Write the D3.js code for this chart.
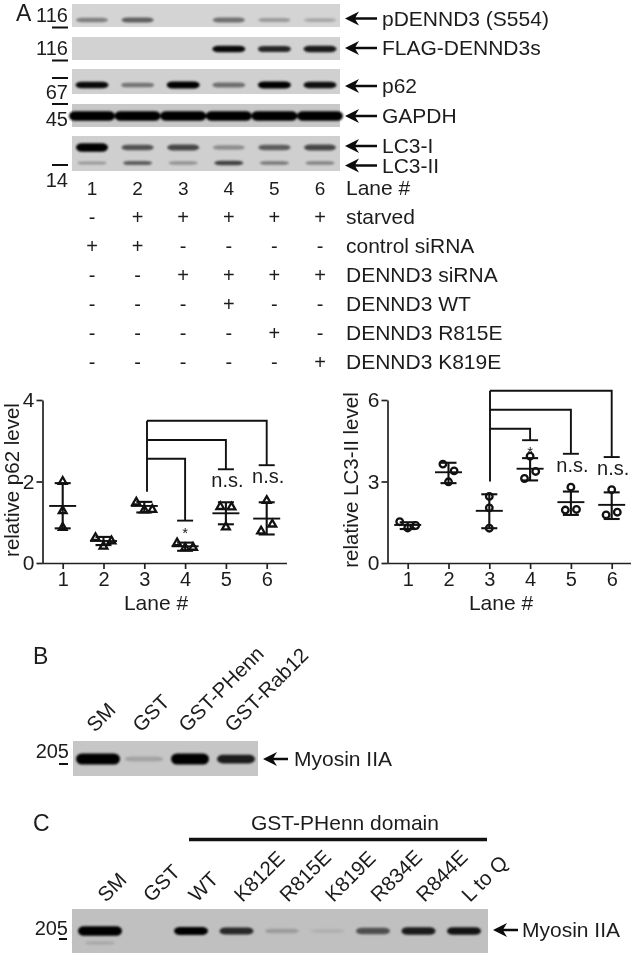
<!DOCTYPE html>
<html>
<head>
<meta charset="utf-8">
<script src="https://cdn.jsdelivr.net/npm/d3@7"></script>
<style>
  html, body { margin: 0; padding: 0; background: #fff; }
  svg { display: block; filter: blur(0.35px); }
  text { font-family: "Liberation Sans", Arial, sans-serif; fill: #1c1c1c; }
</style>
</head>
<body>
<svg id="figure" width="633" height="954"></svg>
<script>
// ---- data ----
const lanes = [1, 2, 3, 4, 5, 6];

// band strength per lane, 0 = no band, 1 = saturated
const pdennd3Bands = [0.3, 0.42, 0, 0.36, 0.2, 0.15];
const flagBands = [0, 0, 0, 0.72, 0.62, 0.66];
const p62Bands = [0.72, 0.34, 0.76, 0.36, 0.78, 0.7];
const gapdhBands = [1, 1, 1, 1, 1, 1];
const lc3iBands = [1, 0.46, 0.5, 0.24, 0.42, 0.5];
const lc3iiBands = [0.2, 0.42, 0.22, 0.52, 0.32, 0.28];
const blotLabels = ['pDENND3 (S554)', 'FLAG-DENND3s', 'p62', 'GAPDH', 'LC3-I', 'LC3-II'];

const tableRows = ['starved', 'control siRNA', 'DENND3 siRNA', 'DENND3 WT', 'DENND3 R815E', 'DENND3 K819E'];
const tableMarks = [
    ['-', '+', '+', '+', '+', '+'],
    ['+', '+', '-', '-', '-', '-'],
    ['-', '-', '+', '+', '+', '+'],
    ['-', '-', '-', '+', '-', '-'],
    ['-', '-', '-', '-', '+', '-'],
    ['-', '-', '-', '-', '-', '+']
];

const p62Points = [[2.0, 1.28, 0.87], [0.62, 0.54, 0.41], [1.49, 1.3, 1.31], [0.49, 0.37, 0.38], [1.38, 1.37, 0.88], [1.53, 0.95, 0.78]];
const p62Sides = [[0, 0, 0], [-1, 1, 0], [-1, 0, 1], [-1, 0, 1], [-0.7, 0.7, 0], [0, 0.7, -0.7]];
const p62Means = [1.4, 0.54, 1.4, 0.41, 1.22, 1.09];
const p62Low = [0.85, 0.44, 1.24, 0.3, 0.95, 0.7];
const p62High = [1.96, 0.64, 1.5, 0.5, 1.49, 1.49];
const p62Brackets = [
    { lane: 4, top: 2.56, end: 1.04, label: '*' },
    { lane: 5, top: 3.02, end: 2.3, label: 'n.s.' },
    { lane: 6, top: 3.49, end: 2.4, label: 'n.s.' }
];

const lc3Points = [[1.52, 1.29, 1.38], [3.64, 3.39, 2.99], [2.45, 2.03, 1.28], [3.93, 3.37, 3.11], [2.79, 1.97, 1.95], [2.7, 1.87, 1.77]];
const lc3Sides = [[-1, 0, 1], [-0.7, 0.7, 0], [0, 0, 0], [0, 0.7, -0.7], [0, 0.7, -0.7], [0, 0.7, -0.7]];
const lc3Means = [1.4, 3.34, 1.92, 3.47, 2.24, 2.14];
const lc3Low = [1.25, 2.94, 1.28, 3.04, 1.77, 1.62];
const lc3High = [1.5, 3.69, 2.53, 3.86, 2.63, 2.6];
const lc3Brackets = [
    { lane: 4, top: 4.94, end: 4.52, label: '*' },
    { lane: 5, top: 5.64, end: 4.02, label: 'n.s.' },
    { lane: 6, top: 6.34, end: 3.9, label: 'n.s.' }
];

const bLanes = ['SM', 'GST', 'GST-PHenn', 'GST-Rab12'];
const bBands = [1, 0.12, 1, 0.65];
const cLanes = ['SM', 'GST', 'WT', 'K812E', 'R815E', 'K819E', 'R834E', 'R844E', 'L to Q'];
const cBands = [1, 0, 0.75, 0.6, 0.13, 0.03, 0.45, 0.65, 0.68];
const cLowerBands = [0.07, 0, 0, 0, 0, 0, 0, 0, 0];

// ---- helpers ----
const svg = d3.select('#figure');

svg.append('defs').append('filter')
    .attr('id', 'soft')
    .attr('x', '-20%').attr('y', '-80%').attr('width', '140%').attr('height', '260%')
    .append('feGaussianBlur').attr('stdDeviation', 1.1);

const laneX = d3.scalePoint().domain(lanes).range([92, 320]);
const bandHeight = d3.scaleLinear().domain([0, 1]).range([3, 8]);
const bandOpacity = d3.scalePow().exponent(1.1).domain([0, 0.75]).range([0.05, 1]).clamp(true);

const add_text = (x, y, str, size = 21, anchor = 'start') =>
    svg.append('text')
        .attr('x', x).attr('y', y)
        .attr('text-anchor', anchor)
        .style('font-size', size + 'px')
        .text(str);

const draw_arrow = (x0, x1, y) => {
    svg.append('path')
        .attr('d', `M${x0},${y} L${x0 + 14},${y - 7} L${x0 + 10.5},${y - 1.2} L${x1},${y - 1.2} L${x1},${y + 1.2} L${x0 + 10.5},${y + 1.2} L${x0 + 14},${y + 7} Z`)
        .style('fill', '#0c0c0c');
};

const draw_dash = (x0, x1, y, w = 2) => {
    svg.append('line')
        .attr('x1', x0).attr('x2', x1).attr('y1', y).attr('y2', y)
        .style('stroke', '#111').style('stroke-width', w);
};

const draw_bands = (bands, xOf, yMid, width, boost = 1) => {
    const w = d => typeof width === 'function' ? width(d) : width;
    const h = d => bandHeight(d.v) * boost;
    svg.append('g')
        .attr('filter', 'url(#soft)')
        .selectAll('rect')
        .data(bands.filter(d => d.v > 0))
        .enter()
        .append('rect')
        .attr('width', w)
        .attr('height', h)
        .attr('x', d => xOf(d.key) - w(d) / 2)
        .attr('y', d => yMid - h(d) / 2)
        .attr('rx', 6)
        .attr('ry', d => h(d) / 2)
        .style('fill', '#060606')
        .style('opacity', d => bandOpacity(d.v));
};

const draw_box = (box) => {
    svg.append('rect')
        .attr('x', box.x).attr('y', box.y)
        .attr('width', box.w).attr('height', box.h)
        .style('fill', box.fill);
};

const with_lanes = (values, keys) => values.map((v, i) => ({ key: keys[i], v: v }));

// ---- panel A blots ----
add_text(16, 21, 'A', 23);

const blotBoxes = [
    { x: 72, y: 4, w: 268, h: 23, fill: '#d4d4d4', mid: 20, bands: pdennd3Bands, width: 32, boost: 1 },
    { x: 72, y: 37, w: 268, h: 23, fill: '#d2d2d2', mid: 49, bands: flagBands, width: 33, boost: 1 },
    { x: 72, y: 69, w: 268, h: 25, fill: '#d0d0d0', mid: 85, bands: p62Bands, width: 33, boost: 1 },
    { x: 72, y: 104, w: 268, h: 23, fill: '#c8c8c8', mid: 116, bands: gapdhBands, width: 46, boost: 1.2 }
];
blotBoxes.forEach(b => {
    draw_box(b);
    draw_bands(with_lanes(b.bands, lanes), laneX, b.mid, b.width, b.boost);
});

draw_box({ x: 72, y: 136, w: 268, h: 35, fill: '#cfcfcf' });
draw_bands(with_lanes(lc3iBands, lanes), laneX, 147.5, 32, 1.05);
draw_bands(with_lanes(lc3iiBands, lanes), laneX, 163, 29, 0.8);

// molecular weight markers
[[68, 22, '116'], [68, 55, '116'], [68, 99, '67'], [68, 126, '45'], [68, 187, '14']]
    .forEach(m => add_text(m[0], m[1], m[2], 20, 'end'));
[27.5, 60.5, 78, 104, 165].forEach(y => draw_dash(52, 68, y));

// arrows and band names
const arrowYs = [18.5, 48, 86, 116, 146, 165.5];
blotLabels.forEach((name, i) => {
    draw_arrow(345, 377, arrowYs[i]);
    add_text(382, arrowYs[i] + (i == 2 ? 6.5 : 7), name);
});

// lane table
lanes.forEach(l => add_text(laneX(l), 195, l, 19, 'middle'));
add_text(346, 195, 'Lane #');
tableRows.forEach((row, r) => {
    let y = 223.5 + r * 29;
    add_text(346, y, row);
    tableMarks[r].forEach((mark, c) => add_text(laneX(lanes[c]), y, mark, 20, 'middle'));
});

// ---- scatter panels ----
const plot_scatter = (cfg) => {
    const x = d3.scalePoint().domain(lanes).range(cfg.xRange);
    const y = d3.scaleLinear().domain(cfg.yDomain).range([563, 400]);
    const chart = svg.append('g');

    // axes
    chart.append('g')
        .attr('transform', `translate(${cfg.axisX},0)`)
        .call(d3.axisLeft(y).tickValues(cfg.yTicks).tickFormat(d3.format('d')).tickSize(6).tickPadding(2).tickSizeOuter(0))
        .call(g => g.selectAll('text').style('font-size', '21px'))
        .call(g => g.selectAll('line').style('stroke', '#222').style('stroke-width', 1.7))
        .call(g => g.select('.domain').style('stroke', '#222').style('stroke-width', 1.7));
    chart.append('g')
        .attr('transform', 'translate(0,563)')
        .call(d3.axisBottom(x).tickSize(6).tickPadding(3).tickSizeOuter(0))
        .call(g => g.selectAll('text').style('font-size', '20px'))
        .call(g => g.selectAll('line').style('stroke', '#222').style('stroke-width', 1.7))
        .call(g => g.select('.domain')
            .attr('d', `M${cfg.axisX},0.5H${cfg.axisEnd}`)
            .style('stroke', '#222').style('stroke-width', 1.7));

    add_text(cfg.labelX, 610, 'Lane #', 21, 'middle');
    svg.append('text')
        .attr('transform', `translate(${cfg.titleX},480) rotate(-90)`)
        .attr('text-anchor', 'middle')
        .style('font-size', '20.5px')
        .text(cfg.title);

    // mean line and error bars
    lanes.forEach((l, i) => {
        const px = x(l);
        chart.append('line')
            .attr('x1', px).attr('x2', px)
            .attr('y1', y(cfg.low[i])).attr('y2', y(cfg.high[i]))
            .style('stroke', '#111').style('stroke-width', 2.1);
        [cfg.low[i], cfg.high[i]].forEach(v => {
            chart.append('line')
                .attr('x1', px - 8).attr('x2', px + 8)
                .attr('y1', y(v)).attr('y2', y(v))
                .style('stroke', '#111').style('stroke-width', 2.1);
        });
        chart.append('line')
            .attr('x1', px - 13.5).attr('x2', px + 13.5)
            .attr('y1', y(cfg.means[i])).attr('y2', y(cfg.means[i]))
            .style('stroke', '#111').style('stroke-width', 1.9);

        // points
        chart.selectAll(null)
            .data(cfg.points[i])
            .enter()
            .append('path')
            .attr('d', d3.symbol().type(cfg.symbol).size(cfg.symbolSize))
            .attr('transform', (d, j) => `translate(${px + cfg.sides[i][j] * 8},${y(d)})`)
            .style('fill', 'none')
            .style('stroke', '#111')
            .style('stroke-width', 2.3);
    });

    // significance brackets
    const startX = x(3) + cfg.stemShift;
    const tops = cfg.brackets.map(b => b.top);
    chart.append('line')
        .attr('x1', startX).attr('x2', startX)
        .attr('y1', y(cfg.stemStart)).attr('y2', y(d3.max(tops)))
        .style('stroke', '#111').style('stroke-width', 1.9);
    cfg.brackets.forEach(b => {
        const bx = x(b.lane);
        chart.append('path')
            .attr('d', `M${startX},${y(b.top)} H${bx} V${y(b.end)}`)
            .style('fill', 'none').style('stroke', '#111').style('stroke-width', 1.9);
        chart.append('line')
            .attr('x1', bx - 8).attr('x2', bx + 8)
            .attr('y1', y(b.end)).attr('y2', y(b.end))
            .style('stroke', '#111').style('stroke-width', 1.9);
        if (b.label == '*') {
            add_text(bx, y(b.end) + 17, b.label, 15, 'middle');
        } else {
            add_text(bx + 1.5, y(b.end) + 18, b.label, 20, 'middle');
        }
    });
};

plot_scatter({
    xRange: [62.7, 266.7], yDomain: [0, 4], yTicks: [0, 2, 4],
    axisX: 42.5, axisEnd: 287, labelX: 156, titleX: 18.5,
    title: 'relative p62 level',
    points: p62Points, sides: p62Sides, means: p62Means, low: p62Low, high: p62High,
    brackets: p62Brackets, stemStart: 1.75, stemShift: 2.7,
    symbol: d3.symbolTriangle, symbolSize: 26
});

plot_scatter({
    xRange: [407.7, 611.7], yDomain: [0, 6], yTicks: [0, 3, 6],
    axisX: 387.5, axisEnd: 631, labelX: 501, titleX: 358,
    title: 'relative LC3-II level',
    points: lc3Points, sides: lc3Sides, means: lc3Means, low: lc3Low, high: lc3High,
    brackets: lc3Brackets, stemStart: 3, stemShift: 0.7,
    symbol: d3.symbolCircle, symbolSize: 34
});

// ---- panel B ----
add_text(33, 664, 'B', 23);
const bX = d3.scalePoint().domain(bLanes).range([98, 236]);
draw_box({ x: 73, y: 741, w: 185, h: 35, fill: '#c6c6c6' });
draw_bands(with_lanes(bBands, bLanes), bX, 759, d => d.key == 'SM' ? 44 : 38, 1.4);
bLanes.forEach(name => {
    svg.append('text')
        .attr('transform', `translate(${bX(name) - 3},733) rotate(-45)`)
        .style('font-size', '20.5px')
        .text(name);
});
add_text(69, 758, '205', 20, 'end');
draw_dash(59, 68, 764);
draw_arrow(263, 288, 759);
add_text(294, 766, 'Myosin IIA');

// ---- panel C ----
add_text(33, 831, 'C', 23);
add_text(345, 830, 'GST-PHenn domain', 21, 'middle');
draw_dash(189, 487, 839.5, 3.5);
const cX = d3.scalePoint().domain(cLanes).range([100, 464]);
draw_box({ x: 72, y: 909, w: 416, h: 44, fill: '#c0c0c0' });
draw_bands(with_lanes(cBands, cLanes), cX, 931, d => d.key == 'SM' ? 44 : 34, 1.2);
draw_bands(with_lanes(cLowerBands, cLanes), cX, 943, 30);
cLanes.forEach(name => {
    svg.append('text')
        .attr('transform', `translate(${cX(name) + 6},903) rotate(-45)`)
        .style('font-size', '20.5px')
        .text(name);
});
add_text(68, 935, '205', 20, 'end');
draw_dash(59, 67, 939);
draw_arrow(493, 518, 930);
add_text(522, 937, 'Myosin IIA');
</script>
</body>
</html>
